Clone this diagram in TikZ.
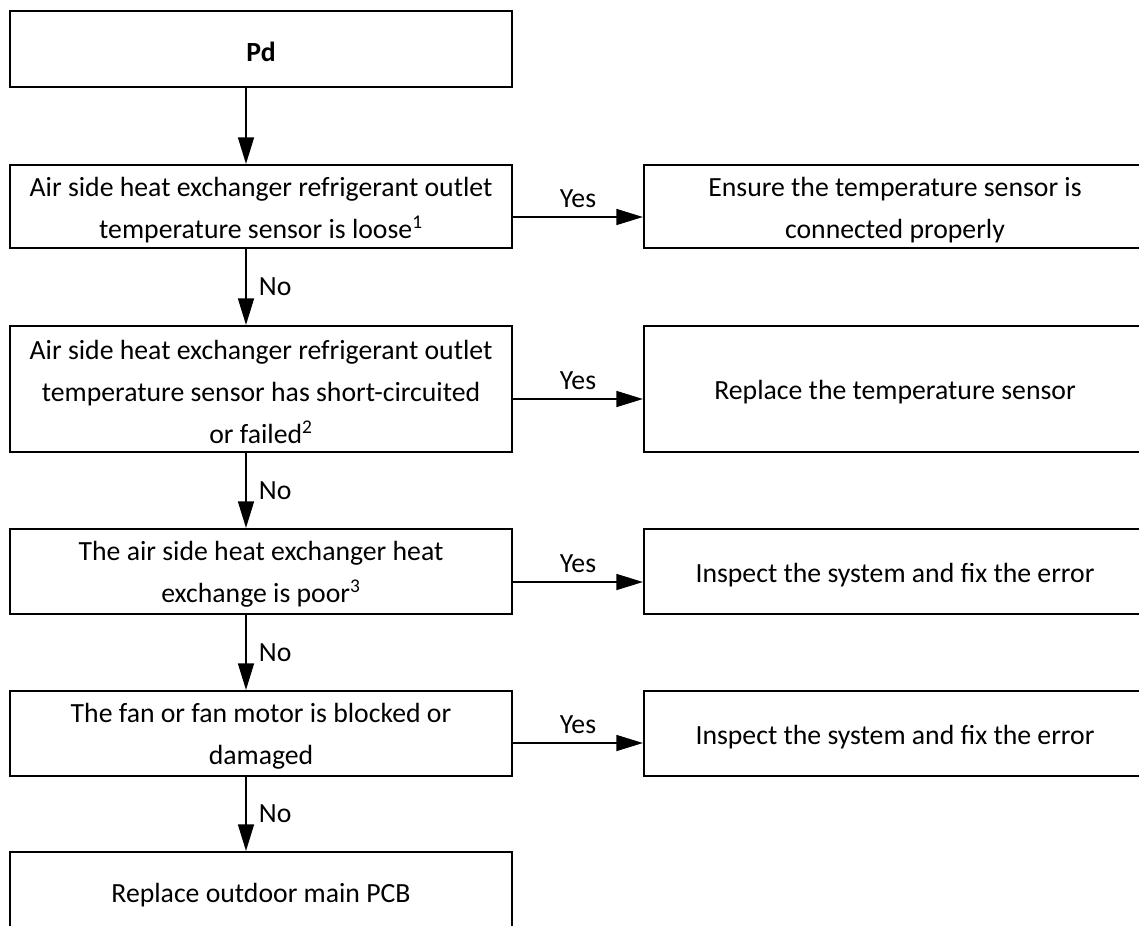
\documentclass[tikz,border=0pt]{standalone}
\usepackage{fontspec}
\setmainfont{Carlito}
\usetikzlibrary{arrows.meta}
\begin{document}
\begin{tikzpicture}[x=0.75pt,y=-0.75pt,
  box/.style={draw, line width=1.6pt, minimum width=502*0.75pt, inner sep=0pt},
  txt/.style={align=center, inner sep=0pt, yshift=-2.4pt,
    font=\fontsize{20.8}{31.5}\selectfont},
  arr/.style={line width=1.3pt, -{Triangle[length=20pt,width=12pt]}},
  lab/.style={font=\fontsize{20.8}{25}\selectfont, inner sep=0pt},
  yes/.style={lab, above=6pt},
  no/.style={lab, right=9pt}]
\useasboundingbox (0,0) rectangle (1139,925);
\clip (0,0) rectangle (1139,925);
% left column
\node[box, minimum height=76*0.75pt, label={[txt]center:\textbf{Pd}}] (pd) at (261,49) {};
\node[box, minimum height=83*0.75pt, label={[txt]center:{Air side heat exchanger refrigerant outlet\\temperature sensor is loose\textsuperscript{1}}}] (q1) at (261,206.5) {};
\node[box, minimum height=126*0.75pt, label={[txt]center:{Air side heat exchanger refrigerant outlet\\temperature sensor has short-circuited\\or failed\textsuperscript{2}}}] (q2) at (261,389) {};
\node[box, minimum height=85*0.75pt, label={[txt]center:{The air side heat exchanger heat\\exchange is poor\textsuperscript{3}}}] (q3) at (261,571.5) {};
\node[box, minimum height=85*0.75pt, label={[txt]center:{The fan or fan motor is blocked or\\damaged}}] (q4) at (261,733.5) {};
\node[box, minimum height=80*0.75pt, label={[txt]center:{Replace outdoor main PCB}}] (fin) at (261,892) {};
% right column
\node[box, minimum height=83*0.75pt, label={[txt]center:{Ensure the temperature sensor is\\connected properly}}] (r1) at (895,206.5) {};
\node[box, minimum height=126*0.75pt, label={[txt]center:{Replace the temperature sensor}}] (r2) at (895,389) {};
\node[box, minimum height=85*0.75pt, label={[txt]center:{Inspect the system and fix the error}}] (r3) at (895,571.5) {};
\node[box, minimum height=85*0.75pt, label={[txt]center:{Inspect the system and fix the error}}] (r4) at (895,733.5) {};
% guide coordinates
\coordinate (vx) at (246,0);
\coordinate (h1) at (0,217);
\coordinate (h2) at (0,399);
\coordinate (h3) at (0,582);
\coordinate (h4) at (0,743);
% vertical connectors
\draw[arr] (pd.south -| vx) -- (q1.north -| vx);
\draw[arr] (q1.south -| vx) -- node[no] {No} (q2.north -| vx);
\draw[arr] (q2.south -| vx) -- node[no] {No} (q3.north -| vx);
\draw[arr] (q3.south -| vx) -- node[no] {No} (q4.north -| vx);
\draw[arr] (q4.south -| vx) -- node[no] {No} (fin.north -| vx);
% horizontal connectors
\draw[arr] (q1.east |- h1) -- node[yes] {Yes} (r1.west |- h1);
\draw[arr] (q2.east |- h2) -- node[yes] {Yes} (r2.west |- h2);
\draw[arr] (q3.east |- h3) -- node[yes] {Yes} (r3.west |- h3);
\draw[arr] (q4.east |- h4) -- node[yes] {Yes} (r4.west |- h4);
\end{tikzpicture}
\end{document}
